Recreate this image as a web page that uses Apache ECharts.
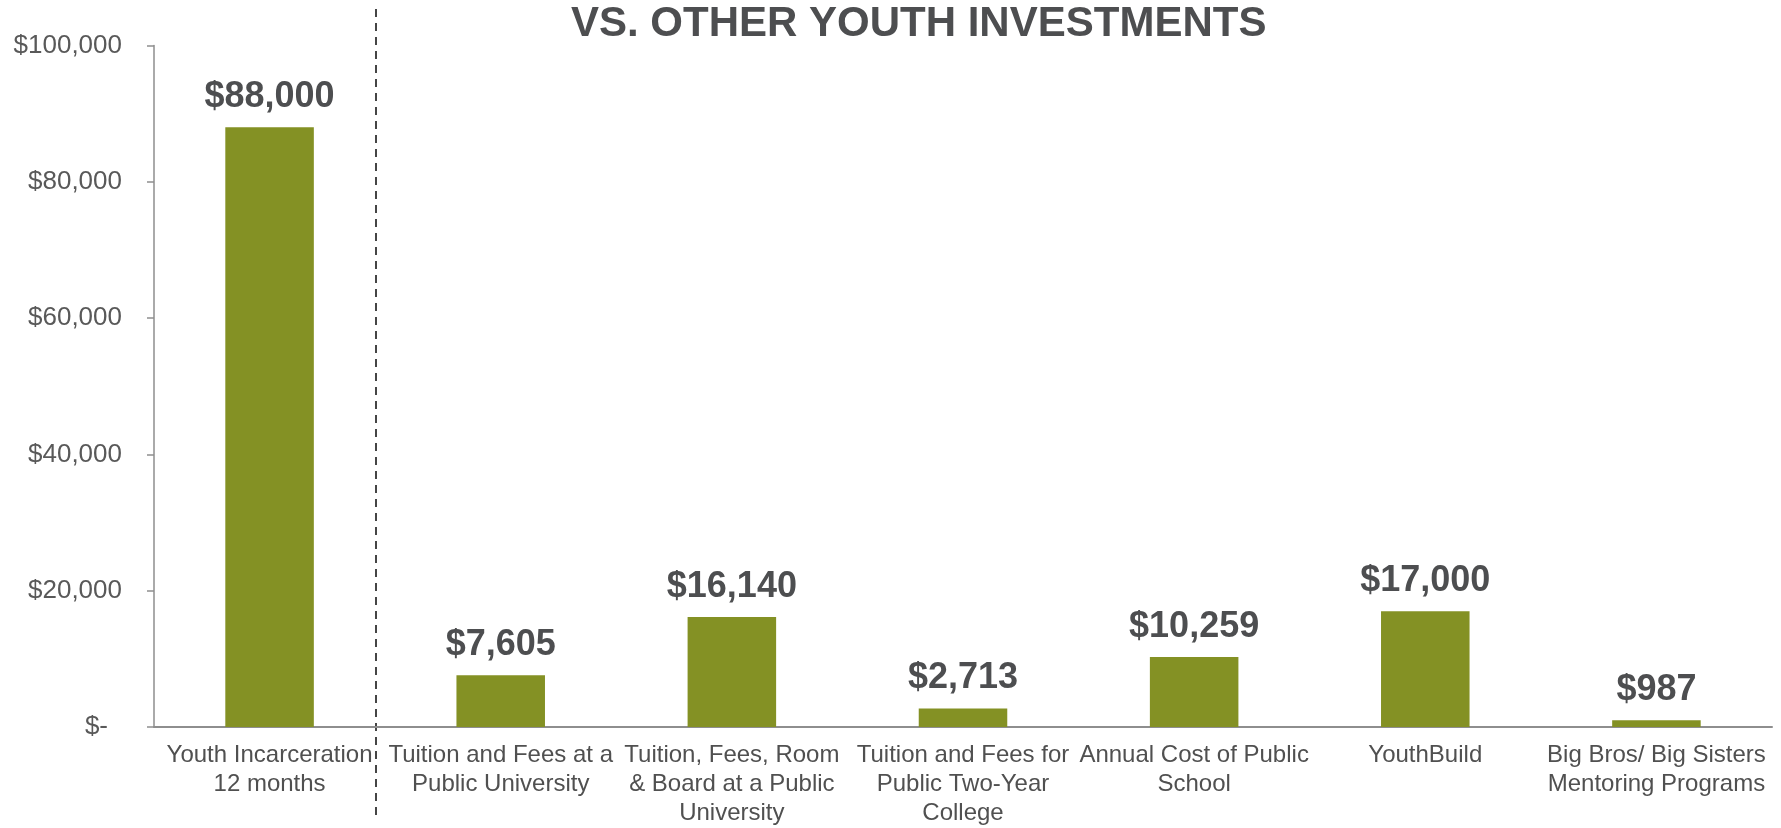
<!DOCTYPE html>
<html>
<head>
<meta charset="utf-8">
<script src="https://cdn.jsdelivr.net/npm/echarts@6/dist/echarts.min.js"></script>
<style>
  html, body { margin: 0; padding: 0; background: #ffffff; }
  #chart { width: 1781px; height: 828px; }
</style>
</head>
<body>
<div id="chart"></div>
<script>
// Annual cost per youth: incarceration compared with other youth investments
const titleText = 'VS. OTHER YOUTH INVESTMENTS';

const categories = [
  'Youth Incarceration\n12 months',
  'Tuition and Fees at a\nPublic University',
  'Tuition, Fees, Room\n& Board at a Public\nUniversity',
  'Tuition and Fees for\nPublic Two-Year\nCollege',
  'Annual Cost of Public\nSchool',
  'YouthBuild',
  'Big Bros/ Big Sisters\nMentoring Programs'
];

const annualCost = [88000, 7605, 16140, 2713, 10259, 17000, 987];

const yMin = 0;
const yMax = 100000;
const yStep = 20000;

const FONT = '"Liberation Sans", Arial, sans-serif';
const fmtDollar = v => '$' + v.toLocaleString('en-US');

const chart = echarts.init(document.getElementById('chart'), null, { renderer: 'canvas' });

chart.setOption({
  animation: false,
  backgroundColor: '#ffffff',
  title: {
    text: titleText,
    left: 566,
    top: -2,
    textStyle: {
      fontFamily: FONT,
      fontSize: 42,
      fontWeight: 'bold',
      color: '#4d4e50'
    }
  },
  grid: {
    left: 154,
    right: 9,
    top: 45.5,
    bottom: 97,
    containLabel: false
  },
  xAxis: {
    type: 'category',
    data: categories,
    axisLine: { show: true, lineStyle: { color: '#8e8e8e', width: 2 } },
    axisTick: { show: false },
    axisLabel: {
      interval: 0,
      margin: 14,
      fontFamily: FONT,
      fontSize: 24,
      lineHeight: 29,
      color: '#505050',
      align: 'center'
    },
    splitLine: { show: false }
  },
  yAxis: {
    type: 'value',
    min: yMin,
    max: yMax,
    interval: yStep,
    axisLine: { show: true, lineStyle: { color: '#8e8e8e', width: 1.5 } },
    axisTick: { show: true, length: 7, lineStyle: { color: '#8e8e8e', width: 1.5 } },
    splitLine: { show: false },
    axisLabel: {
      margin: 32,
      fontFamily: FONT,
      fontSize: 26,
      color: '#595959',
      formatter: v => (v === 0 ? '{z|$-}' : fmtDollar(v)),
      rich: {
        z: { fontFamily: FONT, fontSize: 26, color: '#595959', padding: [0, 14, 0, 0] }
      }
    }
  },
  series: [{
    type: 'bar',
    data: annualCost,
    barWidth: '38.3%',
    itemStyle: { color: '#849124' },
    label: {
      show: true,
      position: 'top',
      distance: 12,
      fontFamily: FONT,
      fontSize: 36,
      fontWeight: 'bold',
      color: '#4d4e50',
      formatter: p => fmtDollar(p.value)
    }
  }]
});

// Dashed divider separating incarceration from the other investments
const x0 = chart.convertToPixel({ xAxisIndex: 0 }, 0);
const x1 = chart.convertToPixel({ xAxisIndex: 0 }, 1);
const divX = Math.round(x0 + (x1 - x0) * 0.46);
chart.setOption({
  graphic: [{
    type: 'line',
    silent: true,
    shape: { x1: divX, y1: 9, x2: divX, y2: 815 },
    style: { stroke: '#454545', lineWidth: 2, lineDash: [8, 6] }
  }]
});
</script>
</body>
</html>
